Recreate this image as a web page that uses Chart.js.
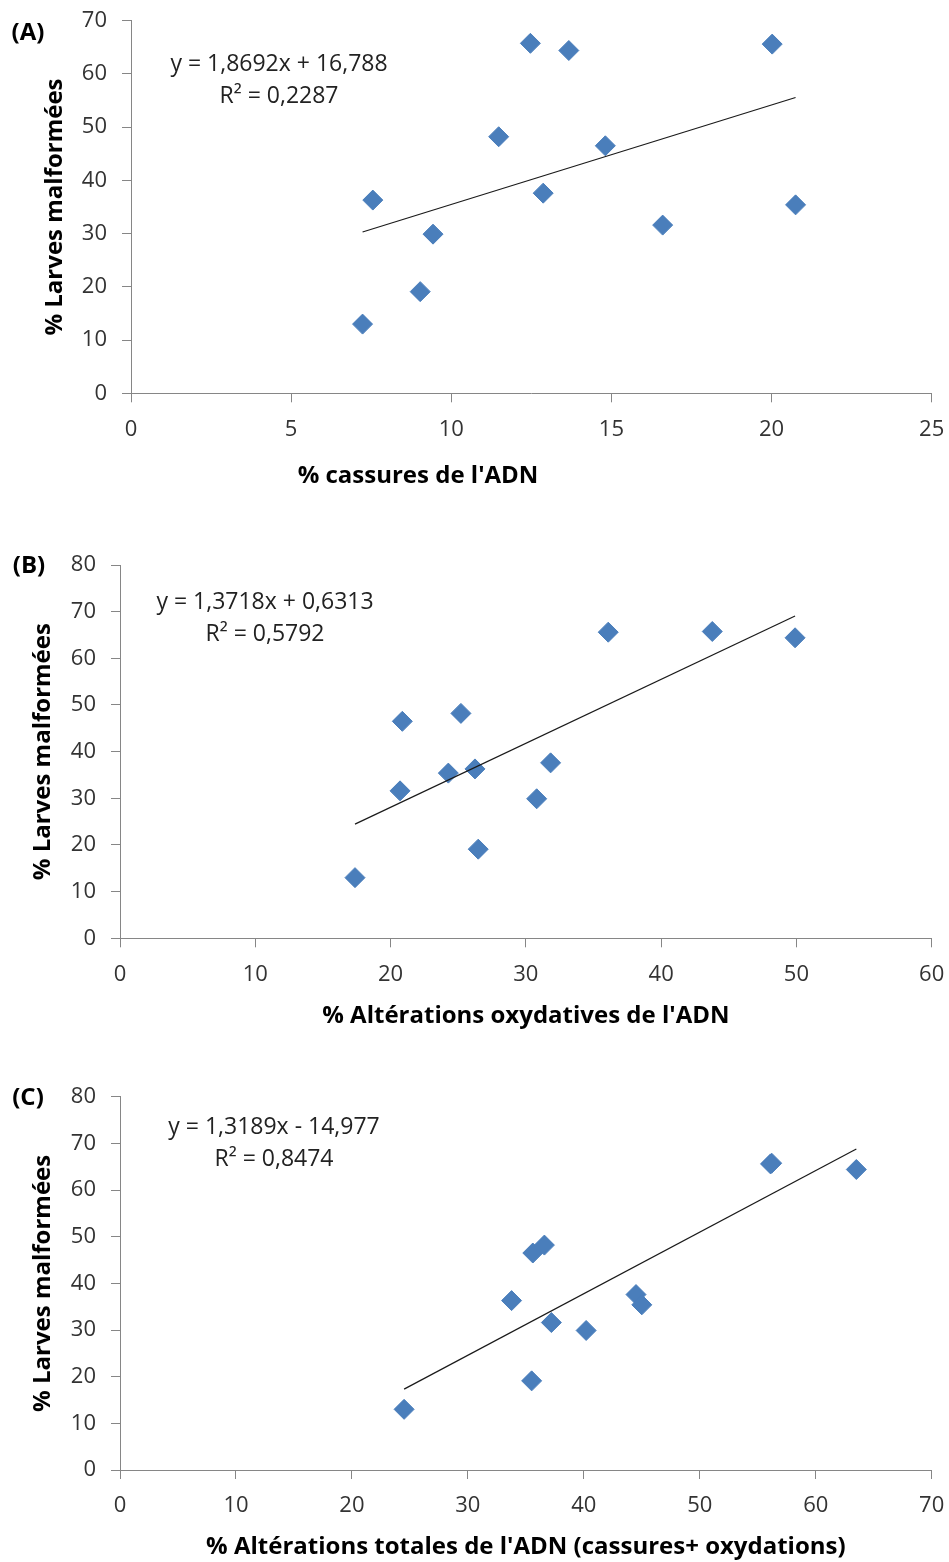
<!DOCTYPE html>
<html>
<head>
<meta charset="utf-8">
<script src="https://cdn.jsdelivr.net/npm/chart.js@4/dist/chart.umd.min.js"></script>
<style>
  body { margin: 0; background: #fff; }
  canvas { display: block; }
</style>
</head>
<body>
<canvas id="chartA" width="949" height="520"></canvas>
<canvas id="chartB" width="949" height="540"></canvas>
<canvas id="chartC" width="949" height="502"></canvas>
<script>
// % larves malformées, same 12 samples in the three panels
const larves = [13.0, 36.3, 19.1, 29.9, 48.2, 65.75, 37.6, 64.4, 46.5, 31.6, 65.6, 35.4];

// x values per panel (same sample order as larves)
const cassures = [7.23, 7.55, 9.03, 9.43, 11.48, 12.47, 12.87, 13.67, 14.81, 16.6, 20.02, 20.75];
const oxydatives = [17.37, 26.24, 26.48, 30.8, 25.2, 43.78, 31.83, 49.9, 20.87, 20.7, 36.09, 24.27];
const totales = [24.5, 33.77, 35.5, 40.2, 36.6, 56.2, 44.5, 63.5, 35.6, 37.2, 56.1, 45.0];

// regression lines as printed on the figure
const fitA = { slope: 1.8692, intercept: 16.788 };
const fitB = { slope: 1.3718, intercept: 0.6313 };
const fitC = { slope: 1.3189, intercept: -14.977 };
const equationA = ['y = 1,8692x + 16,788', 'R² = 0,2287'];
const equationB = ['y = 1,3718x + 0,6313', 'R² = 0,5792'];
const equationC = ['y = 1,3189x - 14,977', 'R² = 0,8474'];

// tick labels
const xTicksA = [0, 5, 10, 15, 20, 25];
const yTicksA = [0, 10, 20, 30, 40, 50, 60, 70];
const xTicksB = [0, 10, 20, 30, 40, 50, 60];
const xTicksC = [0, 10, 20, 30, 40, 50, 60, 70];
const yTicksBC = [0, 10, 20, 30, 40, 50, 60, 70, 80];

const yTitle = '% Larves malformées';
const xTitleA = "% cassures de l'ADN";
const xTitleB = "% Altérations oxydatives de l'ADN";
const xTitleC = "% Altérations totales de l'ADN (cassures+ oxydations)";

Chart.defaults.font.family = "'Open Sans', sans-serif";
Chart.defaults.color = '#333';

const axisGray = '#868686';
const markerBlue = '#4a7ebb';

// draws panel letters, equations and free titles
const textPlugin = {
    id: 'panelText',
    afterDraw(chart, args, opts) {
        const ctx = chart.ctx;
        (opts.items || []).forEach(it => {
            ctx.save();
            ctx.font = it.font;
            ctx.fillStyle = it.color || '#000';
            ctx.textAlign = 'center';
            ctx.textBaseline = 'middle';
            ctx.fillText(it.text, it.x, it.y);
            ctx.restore();
        });
    }
};

function makeChart(id, xs, fit, xTicks, yTicks, xTitle, box, texts) {
    const pts = xs.map((x, i) => ({ x: x, y: larves[i] }));
    const xMin = Math.min(...xs);
    const xMax = Math.max(...xs);
    const line = [xMin, xMax].map(x => ({ x: x, y: fit.slope * x + fit.intercept }));

    return new Chart(document.getElementById(id), {
        type: 'scatter',
        data: {
            datasets: [
                {
                    data: pts,
                    pointStyle: 'rectRot',
                    pointRadius: 10,
                    pointHoverRadius: 10,
                    backgroundColor: markerBlue,
                    borderColor: markerBlue,
                    borderWidth: 1,
                    order: 2
                },
                {
                    type: 'line',
                    data: line,
                    borderColor: '#1a1a1a',
                    borderWidth: 1.2,
                    pointRadius: 0,
                    fill: false,
                    order: 1
                }
            ]
        },
        options: {
            responsive: false,
            animation: false,
            devicePixelRatio: 1,
            layout: { padding: { top: box.top, right: box.right, left: 0, bottom: 0 } },
            plugins: {
                legend: { display: false },
                tooltip: { enabled: false },
                panelText: { items: texts }
            },
            scales: {
                x: {
                    type: 'linear',
                    min: xTicks[0],
                    max: xTicks[xTicks.length - 1],
                    afterBuildTicks: s => { s.ticks = xTicks.map(v => ({ value: v })); },
                    afterFit: s => {
                        s.height = box.xHeight;
                        s.paddingLeft = 0;
                        s.paddingRight = 0;
                    },
                    grid: { drawOnChartArea: false, tickLength: 9, color: axisGray },
                    border: { color: axisGray },
                    ticks: { font: { size: 22 }, padding: 14, autoSkip: false, maxRotation: 0, color: '#333' },
                    title: {
                        display: !!xTitle,
                        text: xTitle || '',
                        color: '#000',
                        font: { size: 24, weight: 'bold' },
                        padding: { top: 0, bottom: box.xTitlePad || 0 }
                    }
                },
                y: {
                    type: 'linear',
                    min: yTicks[0],
                    max: yTicks[yTicks.length - 1],
                    afterBuildTicks: s => { s.ticks = yTicks.map(v => ({ value: v })); },
                    afterFit: s => {
                        s.width = box.yWidth;
                        s.paddingTop = 0;
                        s.paddingBottom = 0;
                    },
                    grid: { drawOnChartArea: false, tickLength: 9, color: axisGray },
                    border: { color: axisGray },
                    ticks: { font: { size: 22 }, padding: 15, autoSkip: false, color: '#333' },
                    title: {
                        display: true,
                        text: yTitle,
                        color: '#000',
                        font: { size: 24, weight: 'bold' },
                        padding: { top: box.yTitlePad, bottom: 0 }
                    }
                }
            }
        },
        plugins: [textPlugin]
    });
}

const boldFont = "bold 24px 'Open Sans'";
const eqFont = "23px 'Open Sans'";

makeChart('chartA', cassures, fitA, xTicksA, yTicksA, null,
    { top: 20.7, right: 17.3, yWidth: 131, xHeight: 126.7, yTitlePad: 40.6 },
    [
        { text: '(A)', x: 28, y: 33, font: boldFont },
        { text: equationA[0], x: 279, y: 64, font: eqFont, color: '#222' },
        { text: equationA[1], x: 279, y: 96, font: eqFont, color: '#222' },
        { text: xTitleA, x: 418, y: 476, font: boldFont }
    ]);

makeChart('chartB', oxydatives, fitB, xTicksB, yTicksBC, xTitleB,
    { top: 45, right: 17.3, yWidth: 120, xHeight: 121.7, yTitlePad: 28.6, xTitlePad: 29 },
    [
        { text: '(B)', x: 29, y: 46, font: boldFont },
        { text: equationB[0], x: 265, y: 82, font: eqFont, color: '#222' },
        { text: equationB[1], x: 265, y: 114, font: eqFont, color: '#222' }
    ]);

makeChart('chartC', totales, fitC, xTicksC, yTicksBC, xTitleC,
    { top: 36.7, right: 17.3, yWidth: 120, xHeight: 92, yTitlePad: 28.6, xTitlePad: 0 },
    [
        { text: '(C)', x: 28, y: 38, font: boldFont },
        { text: equationC[0], x: 274, y: 67, font: eqFont, color: '#222' },
        { text: equationC[1], x: 274, y: 99, font: eqFont, color: '#222' }
    ]);
</script>
</body>
</html>
